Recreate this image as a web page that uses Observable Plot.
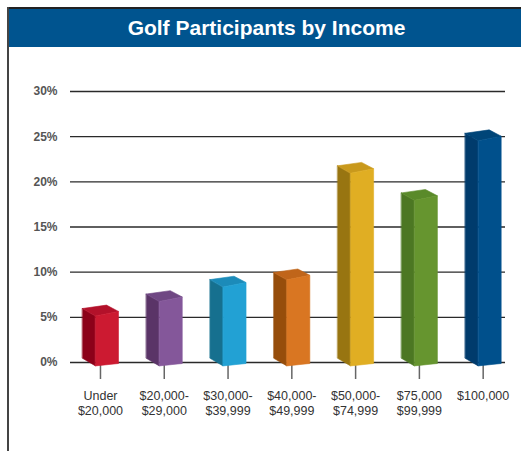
<!DOCTYPE html>
<html><head><meta charset="utf-8">
<script src="https://cdn.jsdelivr.net/npm/d3@7"></script>
<script src="https://cdn.jsdelivr.net/npm/@observablehq/plot@0.6"></script>
<style>
html,body{margin:0;padding:0;background:#fff;}
#wrap{position:relative;width:521px;height:451px;overflow:hidden;font-family:"Liberation Sans",Arial,sans-serif;}
#bt{position:absolute;left:7px;top:7px;width:514px;height:2px;background:#222;}
#bl{position:absolute;left:7px;top:7px;width:2px;height:444px;background:#444;}
#title{position:absolute;left:9px;top:9px;width:512px;height:38px;background:#00548f;color:#fff;font-weight:bold;font-size:21px;line-height:37px;text-align:center;padding-left:3px;box-sizing:border-box;}
#chart{position:absolute;left:0;top:47px;}
</style></head><body>
<div id="wrap"><div id="bt"></div><div id="bl"></div><div id="title">Golf Participants by Income</div><div id="chart"></div></div>
<script>
const categories = ["Under\n$20,000", "$20,000-\n$29,000", "$30,000-\n$39,999", "$40,000-\n$49,999", "$50,000-\n$74,999", "$75,000\n$99,999", "$100,000"];
const values = [5.4, 7.0, 8.6, 9.4, 21.2, 18.2, 24.8];
const frontColors = ["#cc1a31", "#84579a", "#22a1d4", "#d97622", "#e0ae23", "#66952f", "#00508c"];
const sideColors = ["#8c0119", "#5a3467", "#16708f", "#964d0b", "#987511", "#4c7723", "#003b6c"];
const topColors = ["#b3112a", "#6f4783", "#1c8bb9", "#c0651a", "#c9991c", "#5a8a2a", "#004578"];
const yTicks = [0, 5, 10, 15, 20, 25, 30];

const W = 521, H = 404, mL = 70, mR = 16, mT = 44, mB = 89;
const xDomain = [-0.47, 6.35], yDomain = [0, 30];
const kx = (W - mL - mR) / (xDomain[1] - xDomain[0]);   // px per x unit
const ky = (H - mT - mB) / (yDomain[1] - yDomain[0]);   // px per % unit

// 3D prism face outlines, as pixel offsets from (center, top) or (center, base)
const faceShapes = {
  side:  [[-18, "t", -5.2], [-5, "t", 2.2], [-5, "b", 3.4], [-18, "b", -4.2]],
  top:   [[-18, "t", -5.2], [6, "t", -8.6], [18, "t", -2.3], [-5, "t", 2.2]],
  front: [[-5, "t", 2.2], [18, "t", -2.3], [18, "b", 1.0], [-5, "b", 3.4]]
};
const faces = [];
values.forEach((v, i) => {
  const fills = {side: sideColors[i], top: topColors[i], front: frontColors[i]};
  for (const f of ["side", "top", "front"]) {
    for (const [ox, ref, oy] of faceShapes[f]) {
      const base = ref === "t" ? v : 0;
      faces.push({key: i + f, x: i + ox / kx, y: base - oy / ky, fill: fills[f]});
    }
  }
});

const chart = Plot.plot({
  width: W, height: H,
  marginLeft: mL, marginRight: mR, marginTop: mT, marginBottom: mB,
  x: {type: "linear", domain: xDomain},
  y: {domain: yDomain},
  color: {type: "identity"},
  style: {fontFamily: "'Liberation Sans', Arial, sans-serif", background: "transparent", overflow: "visible"},
  marks: [
    Plot.ruleY(yTicks, {stroke: "#2a2a2a", strokeWidth: 1.3}),
    Plot.axisY({ticks: yTicks, tickFormat: d => d + "%", tickSize: 0, tickPadding: 13, fontSize: 12, fontWeight: "bold", fill: "#555", label: null}),
    Plot.axisX({ticks: d3.range(categories.length), tickFormat: i => categories[i], tickSize: 17, tickPadding: 10, fontSize: 12.5, lineHeight: 1.18, stroke: "#666", fill: "#333", strokeWidth: 1.5, label: null}),
    Plot.line(faces, {x: "x", y: "y", z: "key", fill: "fill", stroke: "fill", strokeWidth: 0.6, curve: "linear-closed"})
  ]
});
document.getElementById("chart").appendChild(chart);
</script>
</body></html>
